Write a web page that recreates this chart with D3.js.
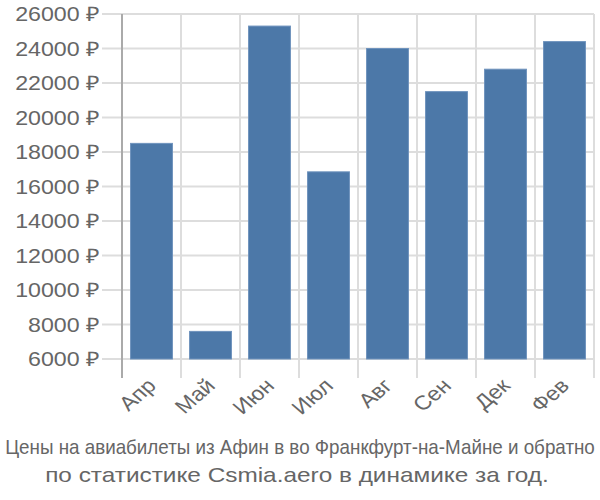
<!DOCTYPE html>
<html><head><meta charset="utf-8">
<script src="https://cdn.jsdelivr.net/npm/d3@7"></script>
<style>body{margin:0;background:#fff;} text{font-family:"Liberation Sans",Arial,sans-serif;}</style>
</head><body>
<svg id="c" width="600" height="500"></svg>
<script>
const categories = ["Апр","Май","Июн","Июл","Авг","Сен","Дек","Фев"];
const values = [18500, 7600, 25300, 16850, 24000, 21500, 22800, 24400];
const yTicks = [6000,8000,10000,12000,14000,16000,18000,20000,22000,24000,26000];
const caption = ["Цены на авиабилеты из Афин в во Франкфурт-на-Майне и обратно","по статистике Csmia.aero в динамике за год."];

const svg = d3.select("#c");
const L=122, R=594, T=14, B=359, SX=1.16;
const x = d3.scaleBand().domain(categories).range([L,R]).paddingInner(0.29).paddingOuter(0.145);
const y = d3.scaleLinear().domain([6000,26000]).range([B,T]);

// horizontal grid + ticks
const gy = svg.append("g");
gy.selectAll("line").data(yTicks).join("line")
  .attr("x1",102).attr("x2",R).attr("y1",d=>y(d)).attr("y2",d=>y(d))
  .attr("stroke","#dddddd").attr("stroke-width",2);
gy.selectAll("text").data(yTicks).join("text")
  .attr("transform",d=>`translate(100,${y(d)}) scale(${SX},1)`)
  .attr("dy","0.36em").attr("text-anchor","end")
  .attr("font-size",20).attr("fill","#666").text(d=>d+" ₽");

// vertical grid
const step = x.step();
const vx = d3.range(categories.length+1).map(i=>L+i*step);
svg.append("g").selectAll("line").data(vx).join("line")
  .attr("x1",d=>d).attr("x2",d=>d).attr("y1",T).attr("y2",B+19)
  .attr("stroke","#dddddd").attr("stroke-width",2);
// y axis line
svg.append("line").attr("x1",L).attr("x2",L).attr("y1",T).attr("y2",B+19)
  .attr("stroke","#aaaaaa").attr("stroke-width",2);

// bars
svg.append("g").selectAll("rect").data(values).join("rect")
  .attr("x",(d,i)=>x(categories[i])).attr("width",x.bandwidth())
  .attr("y",d=>y(d)).attr("height",d=>B-y(d))
  .attr("fill","#4c78a8").attr("stroke","#6f93bd").attr("stroke-width",1);

// x labels
svg.append("g").selectAll("text").data(categories).join("text")
  .attr("transform",d=>`translate(${x(d)+x.bandwidth()/2+6},${B+28}) scale(${SX},1) rotate(-45)`)
  .attr("text-anchor","end")
  .attr("font-size",20).attr("fill","#666").text(d=>d);

// caption line 1: condensed to fit width
const c1 = svg.append("text").attr("text-anchor","middle")
  .attr("font-size",21).attr("fill","#666").text(caption[0]);
const w1 = c1.node().getComputedTextLength();
c1.attr("transform",`translate(300,454) scale(${Math.min(1,590/w1)},1)`);
svg.append("text").attr("transform",`translate(297,482) scale(${SX},1)`).attr("text-anchor","middle")
  .attr("font-size",21).attr("fill","#666").text(caption[1]);
</script>
</body></html>
